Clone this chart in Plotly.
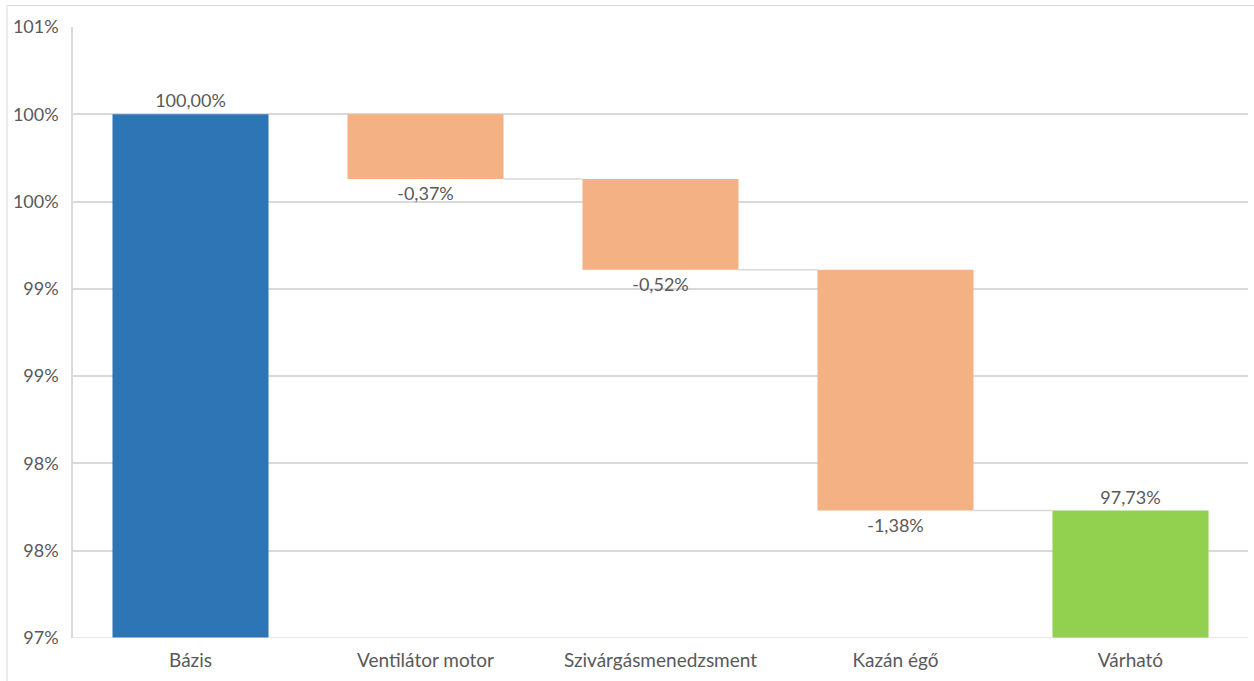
import plotly.graph_objects as go
import math

categories = ["Bázis", "Ventilátor motor", "Szivárgásmenedzsment", "Kazán égő", "Várható"]
measures = ["absolute", "relative", "relative", "relative", "total"]
values = [100.00, -0.37, -0.52, -1.38, 97.73]
bar_colors = ["#2E75B6", "#F4B183", "#F4B183", "#F4B183", "#92D050"]
axis_min = 97.0
axis_max = 100.5
tick_values = [97.0, 97.5, 98.0, 98.5, 99.0, 99.5, 100.0, 100.5]
tick_labels = [f"{math.floor(v + 0.5):d}%" for v in tick_values]

# compute bar bases / heights from the waterfall values
bases, heights, ends = [], [], []
running = 0.0
for m, v in zip(measures, values):
    if m == "absolute":
        base, h = axis_min, v - axis_min
        running = v
    elif m == "relative":
        base, h = running, v
        running = running + v
    else:
        base, h = axis_min, running - axis_min
    bases.append(base)
    heights.append(h)
    ends.append(running)

def fmt(v):
    return f"{v:.2f}".replace(".", ",") + "%"

texts = [fmt(v) for v in values]

FONT = "Lato, Open Sans, sans-serif"
bar_width = 0.664
fig = go.Figure()
fig.add_trace(go.Bar(
    x=list(range(len(categories))),
    y=heights,
    base=bases,
    width=bar_width,
    marker=dict(color=bar_colors, line=dict(width=0)),
    text=texts,
    textposition="outside",
    constraintext="none",
    cliponaxis=False,
    textfont=dict(family=FONT, size=18, color="#595959"),
    hoverinfo="skip",
))

shapes = []
for i in range(len(categories) - 1):
    shapes.append(dict(
        type="line", xref="x", yref="y",
        x0=i + bar_width / 2, x1=i + 1 - bar_width / 2,
        y0=ends[i], y1=ends[i],
        line=dict(color="#D9D9D9", width=1.5), layer="below",
    ))
# light baseline drawn over the bar bottoms
shapes.append(dict(type="line", xref="paper", yref="y", x0=0, x1=1,
                   y0=axis_min, y1=axis_min,
                   line=dict(color="rgba(217,217,217,0.8)", width=1.5), layer="above"))
# outer chart border (top and left)
shapes.append(dict(type="rect", xref="paper", yref="paper",
                   x0=(7 - 73) / 1175, x1=1.2, y0=-0.2, y1=1 + (27 - 5.5) / 611,
                   line=dict(color="#D9D9D9", width=1), layer="below"))

fig.update_layout(
    width=1254, height=681,
    margin=dict(l=73, r=6, t=27, b=43),
    paper_bgcolor="white", plot_bgcolor="white",
    showlegend=False,
    shapes=shapes,
    font=dict(family=FONT, size=18, color="#595959"),
    xaxis=dict(
        tickmode="array", tickvals=list(range(len(categories))), ticktext=categories,
        range=[-0.5, len(categories) - 0.5],
        showgrid=False, zeroline=False, showline=False,
        ticks="outside", ticklen=5, tickcolor="rgba(0,0,0,0)",
        tickfont=dict(family=FONT, size=19, color="#595959"),
    ),
    yaxis=dict(
        range=[axis_min, axis_max],
        tickmode="array", tickvals=tick_values, ticktext=tick_labels,
        showgrid=True, gridcolor="#D9D9D9", gridwidth=1.5,
        zeroline=False,
        showline=True, linecolor="#D9D9D9", linewidth=1.5,
        ticks="outside", ticklen=9, tickcolor="rgba(0,0,0,0)",
        tickfont=dict(family=FONT, size=18, color="#595959"),
    ),
)

fig.write_html("out.html", config={"displayModeBar": False},
               post_script="document.body.style.margin='0';")
